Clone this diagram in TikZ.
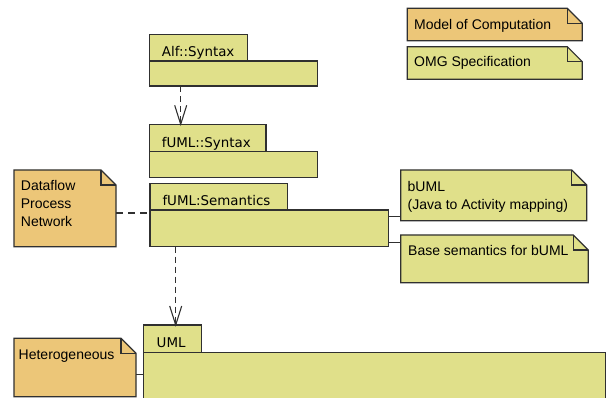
\documentclass[tikz,border=0pt]{standalone}
\usepackage{fontspec}
\setmainfont{Liberation Sans}
\newfontfamily\pkgfont{DejaVu Sans}

\definecolor{pkgfill}{RGB}{224,224,138}
\definecolor{mocfill}{RGB}{236,198,120}
\definecolor{edgegray}{RGB}{48,48,48}

\tikzset{
  box/.style={draw=edgegray, line width=1.2pt, fill=pkgfill, rectangle,
    inner sep=0pt, outer sep=0pt, anchor=north west},
  pkgtab/.style={box},
  pkgbody/.style={box},
  notebox/.style={rectangle, inner sep=0pt, outer sep=0pt, anchor=north west},
  noteline/.style={draw=edgegray, line width=1.2pt, line join=miter},
  pkglabel/.style={inner sep=0pt, anchor=base west, text=black,
    font=\pkgfont\fontsize{13.4}{16}\selectfont},
  notelabel/.style={inner sep=0pt, anchor=base west, text=black,
    font=\fontsize{14}{18}\selectfont},
  deplink/.style={draw=edgegray, line width=1.1pt, dash pattern=on 6pt off 4pt},
  barb/.style={draw=edgegray, line width=1.1pt, line join=miter},
  dashlink/.style={draw=edgegray, line width=1.1pt, dash pattern=on 7pt off 5pt},
  solidlink/.style={draw=edgegray, line width=1.1pt},
}

% note outline with a folded top-right corner
\newcommand\dogear[2]{%
  \path[noteline, fill=#2] (#1.north west) -- ([xshift=-15pt]#1.north east)
    -- ([yshift=-15pt]#1.north east) -- (#1.south east) -- (#1.south west) -- cycle;
  \draw[noteline] ([xshift=-15pt]#1.north east) |- ([yshift=-15pt]#1.north east);
}
% open V head of a dependency, tip at the given coordinate
\newcommand\openhead[1]{%
  \draw[barb] ([shift={(-6,-19)}]#1) -- (#1) -- ([shift={(6,-19)}]#1);
}

\begin{document}
\begin{tikzpicture}[x=1pt, y=-1pt]
\useasboundingbox (0,0) rectangle (606,398);
\clip (0,0) rectangle (606,398);

% ---- legend notes
\node[notebox, minimum width=175pt, minimum height=32.4pt] (moc) at (407.3,8.3) {};
\dogear{moc}{mocfill}
\node[notelabel] (moc-l) at (414,29.3) {Model of Computation};

\node[notebox, minimum width=175pt, minimum height=32.6pt] (omg) at (407.3,46.7) {};
\dogear{omg}{pkgfill}
\node[notelabel] (omg-l) at (414,66.7) {OMG Specification};

% ---- packages
\node[pkgbody, minimum width=167.8pt, minimum height=25pt] (alfbody) at (149.5,61) {};
\node[pkgtab, minimum width=98.2pt, minimum height=26.7pt] (alftab) at (149.5,34.3) {};
\node[pkglabel] (alf-l) at (161.7,56.7) {Alf::Syntax};

\node[pkgbody, minimum width=167.8pt, minimum height=25.6pt] (synbody) at (149.5,151.7) {};
\node[pkgtab, minimum width=116.5pt, minimum height=27.4pt] (syntab) at (149.5,124.3) {};
\node[pkglabel] (syn-l) at (161.7,147.7) {fUML::Syntax};

\node[pkgbody, minimum width=238.3pt, minimum height=36.7pt] (sembody) at (150,210) {};
\node[pkgtab, minimum width=137.7pt, minimum height=26.7pt] (semtab) at (150,183.3) {};
\node[pkglabel] (sem-l) at (162.3,205.7) {fUML:Semantics};

\node[pkgbody, minimum width=462.4pt, minimum height=60pt] (umlbody) at (143.3,352.7) {};
\node[pkgtab, minimum width=58.4pt, minimum height=27.7pt] (umltab) at (143.3,325) {};
\node[pkglabel] (uml-l) at (156.5,347.3) {UML};

% ---- attached notes
\node[notebox, minimum width=102pt, minimum height=76.7pt] (dpn) at (14,170) {};
\dogear{dpn}{mocfill}
\node[notelabel] (dpn-l1) at (20.7,190.7) {Dataflow};
\node[notelabel] (dpn-l2) at (20.7,208.7) {Process};
\node[notelabel] (dpn-l3) at (20.7,226.7) {Network};

\node[notebox, minimum width=186pt, minimum height=50.7pt] (buml) at (400.7,170) {};
\dogear{buml}{pkgfill}
\node[notelabel] (buml-l1) at (407.5,191.7) {bUML};
\node[notelabel] (buml-l2) at (407.5,210) {(Java to Activity mapping)};

\node[notebox, minimum width=187.6pt, minimum height=47.7pt] (base) at (400.7,235) {};
\dogear{base}{pkgfill}
\node[notelabel] (base-l) at (408,256) {Base semantics for bUML};

\node[notebox, minimum width=122pt, minimum height=58.4pt] (het) at (14,338.3) {};
\dogear{het}{mocfill}
\node[notelabel] (het-l) at (18.5,359.3) {Heterogeneous};

% ---- connectors
\coordinate (x1) at (180.7,0);
\coordinate (x2) at (175.7,0);
\coordinate (y1) at (0,213);
\coordinate (y2) at (0,216.7);
\coordinate (y3) at (0,242.7);
\coordinate (y4) at (0,374.3);
\coordinate (tip1) at (syntab.north -| x1);
\coordinate (tip2) at (umltab.north -| x2);

\draw[deplink] (alfbody.south -| x1) -- (tip1);
\openhead{tip1}
\draw[deplink] (sembody.south -| x2) -- (tip2);
\openhead{tip2}
\draw[dashlink] (dpn.east |- y1) -- (sembody.west |- y1);
\draw[solidlink] (sembody.east |- y2) -- (buml.west |- y2);
\draw[solidlink] (sembody.east |- y3) -- (base.west |- y3);
\draw[solidlink] (het.east |- y4) -- (umlbody.west |- y4);
\end{tikzpicture}
\end{document}
